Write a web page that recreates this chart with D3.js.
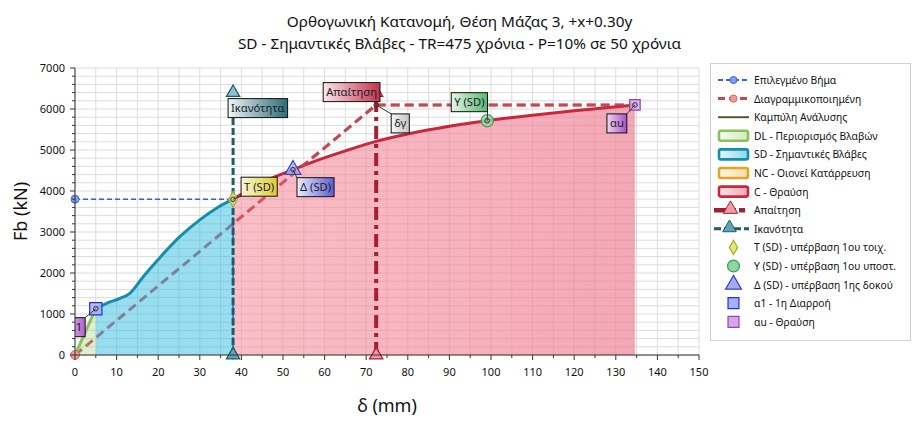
<!DOCTYPE html>
<html>
<head>
<meta charset="utf-8">
<script src="https://cdn.jsdelivr.net/npm/d3@7"></script>
<style>
  html, body { margin: 0; padding: 0; background: #fff; }
  svg { display: block; font-family: "Noto Sans", "Open Sans", sans-serif; }
</style>
</head>
<body>
<svg id="chart" width="919" height="425"></svg>
<script>
// ---------------- DATA ----------------
const titleLines = ["Ορθογωνική Κατανομή, Θέση Μάζας 3, +x+0.30y",
                    "SD - Σημαντικές Βλάβες - TR=475 χρόνια - P=10% σε 50 χρόνια"];
const xTitle = "δ (mm)";
const yTitle = "Fb (kN)";
const xTicks = [0, 10, 20, 30, 40, 50, 60, 70, 80, 90, 100, 110, 120, 130, 140, 150];
const yTicks = [0, 1000, 2000, 3000, 4000, 5000, 6000, 7000];

// capacity (analysis) curve
const curveD = [0, 5.0, 7.6, 10.8, 13.0, 16.4, 20.0, 25.2, 30.0, 34.0, 38.0, 45, 52.4, 58, 65, 72.4, 80, 90, 99.1, 110, 120, 134.6];
const curveF = [0, 1130, 1260, 1380, 1490, 1910, 2330, 2885, 3295, 3580, 3800, 4210, 4520, 4740, 4980, 5210, 5390, 5580, 5715, 5850, 5960, 6100];

// damage zones (limits in mm)
const zoneNames = ["DL - Περιορισμός Βλαβών", "SD - Σημαντικές Βλάβες", "NC - Οιονεί Κατάρρευση", "C - Θραύση"];
const zoneStart = [0, 5.0, null, 38.0];
const zoneEnd   = [5.0, 38.0, null, 134.6];

// bilinear idealisation
const bilinD = [0, 72.4, 134.6];
const bilinF = [0, 6100, 6100];

// selected step
const stepD = [0, 38.0, 38.0];
const stepF = [3800, 3800, 0];

// demand & capacity vertical lines
const demandD = [72.4, 72.4];
const demandF = [0, 6400];
const capacityD = [38.0, 38.0];
const capacityF = [0, 6400];

// characteristic points
const pointNames = ["Τ (SD) - υπέρβαση 1ου τοιχ.", "Υ (SD) - υπέρβαση 1ου υποστ.", "Δ (SD) - υπέρβαση 1ης δοκού", "α1 - 1η Διαρροή", "αu - Θραύση"];
const pointLabels = ["Τ (SD)", "Υ (SD)", "Δ (SD)", "α1", "αu"];
const pointD = [38.0, 99.1, 52.4, 5.0, 134.6];
const pointF = [3800, 5715, 4520, 1130, 6100];

const legendNames = ["Επιλεγμένο Βήμα", "Διαγραμμικοποιημένη", "Καμπύλη Ανάλυσης",
  "DL - Περιορισμός Βλαβών", "SD - Σημαντικές Βλάβες", "NC - Οιονεί Κατάρρευση", "C - Θραύση",
  "Απαίτηση", "Ικανότητα",
  "Τ (SD) - υπέρβαση 1ου τοιχ.", "Υ (SD) - υπέρβαση 1ου υποστ.", "Δ (SD) - υπέρβαση 1ης δοκού",
  "α1 - 1η Διαρροή", "αu - Θραύση"];

// ---------------- LAYOUT ----------------
const svg = d3.select("#chart");
const W = 919;
const L = 75, R = 699, T = 68, B = 355;
const x = d3.scaleLinear().domain([0, 150]).range([L, R]);
const y = d3.scaleLinear().domain([0, 7000]).range([B, T]);

const defs = svg.append("defs");
defs.append("clipPath").attr("id", "plotclip").append("rect")
  .attr("x", L).attr("y", T - 20).attr("width", R - L).attr("height", B - T + 20);

function hGrad(id, c1, c2, o1 = 1, o2 = 1) {
  const g = defs.append("linearGradient").attr("id", id).attr("x1", "0%").attr("x2", "100%").attr("y1", "0%").attr("y2", "0%");
  g.append("stop").attr("offset", "0%").attr("stop-color", c1).attr("stop-opacity", o1);
  g.append("stop").attr("offset", "100%").attr("stop-color", c2).attr("stop-opacity", o2);
}

// ---------------- TITLE ----------------
svg.append("g").selectAll("text").data(titleLines).join("text")
  .attr("x", W / 2).attr("y", (d, i) => 26.5 + i * 22)
  .attr("text-anchor", "middle").attr("font-size", 15.3).attr("fill", "#111")
  .text(d => d);

// ---------------- GRID ----------------
const grid = svg.append("g");
grid.selectAll("line.v").data(d3.range(0, 151, 5)).join("line")
  .attr("x1", d => x(d)).attr("x2", d => x(d)).attr("y1", T).attr("y2", B)
  .attr("stroke", "#dcdcdc").attr("stroke-width", 1);
grid.selectAll("line.h").data(d3.range(0, 7001, 200)).join("line")
  .attr("x1", L).attr("x2", R).attr("y1", d => y(d)).attr("y2", d => y(d))
  .attr("stroke", "#dcdcdc").attr("stroke-width", 1);

// ---------------- SERIES ----------------
const pts = curveD.map((d, i) => [d, curveF[i]]);
const lineGen = d3.line().x(d => x(d[0])).y(d => y(d[1])).curve(d3.curveMonotoneX);
const areaGen = d3.area().x(d => x(d[0])).y0(y(0)).y1(d => y(d[1])).curve(d3.curveMonotoneX);

// bilinear dashed (drawn beneath zone fills)
svg.append("path").datum(bilinD.map((d, i) => [d, bilinF[i]]))
  .attr("d", d3.line().x(d => x(d[0])).y(d => y(d[1])))
  .attr("fill", "none").attr("stroke", "#c9474f").attr("stroke-width", 3).attr("stroke-dasharray", "9,5");

const zoneFill = ["rgba(150,205,110,0.32)", "rgba(50,190,225,0.5)", "rgba(240,170,40,0.3)", "url(#gC)"];
const zoneLine = ["#86c35a", "#168ea9", "#e5a322", "#c8283c"];
hGrad("gC", "#f58a9a", "#ee7b8e", 0.55, 0.66);

zoneNames.forEach((nm, i) => {
  if (zoneStart[i] === null) return;
  const seg = pts.filter(p => p[0] >= zoneStart[i] - 1e-9 && p[0] <= zoneEnd[i] + 1e-9);
  svg.append("path").datum(seg).attr("d", areaGen).attr("fill", zoneFill[i]).attr("stroke", "none");
});
zoneNames.forEach((nm, i) => {
  if (zoneStart[i] === null) return;
  const seg = pts.filter(p => p[0] >= zoneStart[i] - 1e-9 && p[0] <= zoneEnd[i] + 1e-9);
  svg.append("path").datum(seg).attr("d", lineGen).attr("fill", "none")
    .attr("stroke", zoneLine[i]).attr("stroke-width", 3).attr("stroke-linejoin", "round");
});

// bilinear dashed visible part over the pink
defs.append("clipPath").attr("id", "clipC").append("rect")
  .attr("x", x(38.0)).attr("y", T - 30).attr("width", R - x(38.0)).attr("height", B - T + 30);
svg.append("path").datum(bilinD.map((d, i) => [d, bilinF[i]]))
  .attr("d", d3.line().x(d => x(d[0])).y(d => y(d[1])))
  .attr("fill", "none").attr("stroke", "#c9474f").attr("stroke-opacity", 0.55).attr("stroke-width", 3).attr("stroke-dasharray", "9,5")
  .attr("clip-path", "url(#clipC)");

// selected step
svg.append("path").datum(stepD.map((d, i) => [d, stepF[i]]))
  .attr("d", d3.line().x(d => x(d[0])).y(d => y(d[1])))
  .attr("fill", "none").attr("stroke", "#3c5fd6").attr("stroke-width", 1.6).attr("stroke-dasharray", "5,3");

// capacity line
svg.append("path").datum(capacityD.map((d, i) => [d, capacityF[i]]))
  .attr("d", d3.line().x(d => x(d[0])).y(d => y(d[1])))
  .attr("fill", "none").attr("stroke", "#1f5c68").attr("stroke-width", 3).attr("stroke-dasharray", "7,3");

// demand line (dash-dot)
svg.append("path").datum(demandD.map((d, i) => [d, demandF[i]]))
  .attr("d", d3.line().x(d => x(d[0])).y(d => y(d[1])))
  .attr("fill", "none").attr("stroke", "#a51f30").attr("stroke-width", 4).attr("stroke-dasharray", "13,5,4,5");

// step markers
svg.append("g").selectAll("circle").data([[stepD[0], stepF[0]], [stepD[2], stepF[2]]]).join("circle")
  .attr("cx", d => x(d[0])).attr("cy", d => y(d[1])).attr("r", 4)
  .attr("fill", "#7e9ff0").attr("stroke", "#4466d8").attr("stroke-width", 1);
// bilinear origin marker
svg.append("circle").attr("cx", x(bilinD[0])).attr("cy", y(bilinF[0])).attr("r", 4.5)
  .attr("fill", "#f29a9a").attr("stroke", "#d66a6a").attr("stroke-width", 1);

const triSym = d3.symbol().type(d3.symbolTriangle).size(75);
function tri(d, f, fill, stroke) {
  svg.append("path").attr("d", triSym).attr("transform", `translate(${x(d)},${y(f)})`)
    .attr("fill", fill).attr("stroke", stroke).attr("stroke-width", 1.3);
}
tri(capacityD[0], capacityF[0], "#62a3b2", "#1f5c68");
tri(capacityD[1], capacityF[1], "#8fc0cc", "#1f5c68");
tri(demandD[0], demandF[0], "#f19aa5", "#a51f30");
tri(demandD[1], demandF[1], "#f19aa5", "#a51f30");

// characteristic point markers
const markerType = [d3.symbolDiamond, d3.symbolCircle, d3.symbolTriangle, d3.symbolSquare, d3.symbolSquare];
const markerSize = [70, 120, 110, 150, 110];
const markerFill = ["#e6e67e", "#8fd6a0", "#a4aaf2", "#a9b0fa", "#d8a6e8"];
const markerStroke = ["#a8a83a", "#3e9c56", "#3544c2", "#2233d6", "#9446b2"];
pointD.forEach((d, i) => {
  svg.append("path").attr("d", d3.symbol().type(markerType[i]).size(markerSize[i]))
    .attr("transform", `translate(${x(d)},${y(pointF[i])})`)
    .attr("fill", markerFill[i]).attr("fill-opacity", 0.85).attr("stroke", markerStroke[i]).attr("stroke-width", 1.2);
});

// ---------------- LABEL BOXES ----------------
hGrad("lbT", "#fbf7d6", "#dccb2e");
hGrad("lbY", "#e4f6e8", "#55b86e");
hGrad("lbD", "#ececfb", "#5a5ed0");
hGrad("lbA1", "#e6c4f0", "#b060cc");
hGrad("lbAU", "#eed6f4", "#a552c4");
hGrad("lbCap", "#eef7f9", "#2c6c77");
hGrad("lbDem", "#fbe6ea", "#c2344c");
hGrad("lbDg", "#f6f6f6", "#c4c4c4");

const labels = [
  { t: pointLabels[0], d: pointD[0], f: pointF[0], dx: 8, dy: -22, g: "lbT", cx: 0, cy: 1 },
  { t: pointLabels[1], d: pointD[1], f: pointF[1], dx: -36, dy: -28, g: "lbY", cx: 1, cy: 1 },
  { t: pointLabels[2], d: pointD[2], f: pointF[2], dx: 4, dy: 8, g: "lbD", cx: 0, cy: 0 },
  { t: pointLabels[3], d: pointD[3], f: pointF[3], dx: -30, dy: 9, g: "lbA1", cx: 1, cy: 0, clip: true },
  { t: pointLabels[4], d: pointD[4], f: pointF[4], dx: -28, dy: 9, g: "lbAU", cx: 1, cy: 0 },
  { t: "Ικανότητα", d: capacityD[1], f: capacityF[1], dx: -5, dy: 6, g: "lbCap", cx: -1, cy: -1 },
  { t: "Απαίτηση", d: demandD[1], f: demandF[1], dx: -53, dy: -10, g: "lbDem", cx: -1, cy: -1 },
  { t: "δγ", d: bilinD[1], f: bilinF[1], dx: 15, dy: 9, g: "lbDg", cx: 0, cy: 0 }
];
const lblG = svg.append("g");
labels.forEach(lb => {
  const px = x(lb.d), py = y(lb.f);
  const g = lblG.append("g");
  if (lb.clip) g.attr("clip-path", "url(#plotclip)");
  const txt = g.append("text").attr("font-size", 11.2).attr("fill", "#1a1a2a").text(lb.t);
  const w = txt.node().getComputedTextLength() + 6, h = 19;
  const bx = px + lb.dx, by = py + lb.dy;
  if (lb.cx >= 0) {
    const cxp = bx + (lb.cx ? w : 0), cyp = by + (lb.cy ? h : 0);
    g.insert("line", "text").attr("x1", px).attr("y1", py).attr("x2", cxp).attr("y2", cyp)
      .attr("stroke", "#333").attr("stroke-width", 1);
    g.insert("circle", "text").attr("cx", px).attr("cy", py).attr("r", 2.3)
      .attr("fill", "none").attr("stroke", "#333").attr("stroke-width", 1);
  }
  g.insert("rect", "text").attr("x", bx).attr("y", by).attr("width", w).attr("height", h)
    .attr("fill", `url(#${lb.g})`).attr("stroke", "#111").attr("stroke-width", 1);
  txt.attr("x", bx + 3).attr("y", by + 13.5);
});

// ---------------- AXES ----------------
const axG = svg.append("g").attr("font-size", 11);
axG.append("line").attr("x1", L).attr("x2", R).attr("y1", B).attr("y2", B).attr("stroke", "#333");
axG.append("line").attr("x1", L).attr("x2", L).attr("y1", T).attr("y2", B).attr("stroke", "#333");
axG.selectAll("line.xt").data(d3.range(0, 151, 5)).join("line")
  .attr("x1", d => x(d)).attr("x2", d => x(d)).attr("y1", B).attr("y2", d => B + (d % 10 === 0 ? 5 : 3)).attr("stroke", "#333");
axG.selectAll("line.yt").data(d3.range(0, 7001, 200)).join("line")
  .attr("y1", d => y(d)).attr("y2", d => y(d)).attr("x1", L).attr("x2", d => L - (d % 1000 === 0 ? 5 : 3)).attr("stroke", "#333");
axG.selectAll("text.xl").data(xTicks).join("text")
  .attr("x", d => x(d)).attr("y", B + 21).attr("text-anchor", "middle").attr("fill", "#111").text(d => d);
axG.selectAll("text.yl").data(yTicks).join("text")
  .attr("x", L - 10).attr("y", d => y(d) + 4).attr("text-anchor", "end").attr("fill", "#111").text(d => d);

svg.append("text").attr("x", (L + R) / 2).attr("y", 412).attr("text-anchor", "middle")
  .attr("font-size", 18).attr("fill", "#111").text(xTitle);
svg.append("text").attr("transform", `translate(27,${(T + B) / 2}) rotate(-90)`).attr("text-anchor", "middle")
  .attr("font-size", 18).attr("fill", "#111").text(yTitle);

// ---------------- LEGEND ----------------
const lg = svg.append("g");
lg.append("rect").attr("x", 710.5).attr("y", 63.5).attr("width", 200).attr("height", 277)
  .attr("fill", "#fff").attr("stroke", "#d0d0d0");
const ly0 = 80, lstep = 18.6, sx0 = 718, sx1 = 749, smid = 733.5, tx = 754;
hGrad("lgDL", "#f4faef", "#d4ecc2");
hGrad("lgSD", "#e2f6fb", "#8ad8ee");
hGrad("lgNC", "#fdf6e6", "#f6dca8");
hGrad("lgC", "#fde6ea", "#f4a6b2");
const zoneLg = ["lgDL", "lgSD", "lgNC", "lgC"];
legendNames.forEach((nm, i) => {
  const cy = ly0 + i * lstep;
  const g = lg.append("g");
  if (i === 0 || i === 1) {
    g.append("line").attr("x1", sx0).attr("x2", sx1).attr("y1", cy).attr("y2", cy)
      .attr("stroke", i === 0 ? "#3c5fd6" : "#c9474f").attr("stroke-width", i === 0 ? 1.8 : 3)
      .attr("stroke-dasharray", i === 0 ? "5,3" : "7,4");
    g.append("circle").attr("cx", smid).attr("cy", cy).attr("r", 3.6)
      .attr("fill", i === 0 ? "#7e9ff0" : "#f29a9a").attr("stroke", i === 0 ? "#4466d8" : "#d66a6a");
  } else if (i === 2) {
    g.append("line").attr("x1", sx0).attr("x2", sx1).attr("y1", cy).attr("y2", cy)
      .attr("stroke", "#4e5a34").attr("stroke-width", 2);
  } else if (i >= 3 && i <= 6) {
    g.append("rect").attr("x", sx0 + 1).attr("y", cy - 5).attr("width", sx1 - sx0 - 2).attr("height", 10).attr("rx", 2)
      .attr("fill", `url(#${zoneLg[i - 3]})`).attr("stroke", zoneLine[i - 3]).attr("stroke-width", 2.6);
  } else if (i === 7) {
    g.append("line").attr("x1", sx0 - 4).attr("x2", sx1).attr("y1", cy).attr("y2", cy)
      .attr("stroke", "#a51f30").attr("stroke-width", 4.5).attr("stroke-dasharray", "22,3,6,20");
    g.append("path").attr("d", d3.symbol().type(d3.symbolTriangle).size(90)).attr("transform", `translate(${smid - 3},${cy - 1})`)
      .attr("fill", "#f19aa5").attr("stroke", "#a51f30");
  } else if (i === 8) {
    g.append("line").attr("x1", sx0 - 4).attr("x2", sx1).attr("y1", cy).attr("y2", cy)
      .attr("stroke", "#1f5c68").attr("stroke-width", 3).attr("stroke-dasharray", "7,3");
    g.append("path").attr("d", d3.symbol().type(d3.symbolTriangle).size(80)).attr("transform", `translate(${smid - 4},${cy - 1})`)
      .attr("fill", "#62a3b2").attr("stroke", "#1f5c68");
  } else {
    const k = i - 9;
    g.append("path").attr("d", d3.symbol().type(markerType[k]).size([60, 110, 110, 120, 120][k]))
      .attr("transform", `translate(${smid},${cy})`)
      .attr("fill", markerFill[k]).attr("stroke", markerStroke[k]).attr("stroke-width", 1.2);
  }
  g.append("text").attr("x", tx).attr("y", cy + 4).attr("font-size", 10.3).attr("fill", "#111").text(nm);
});
</script>
</body>
</html>
